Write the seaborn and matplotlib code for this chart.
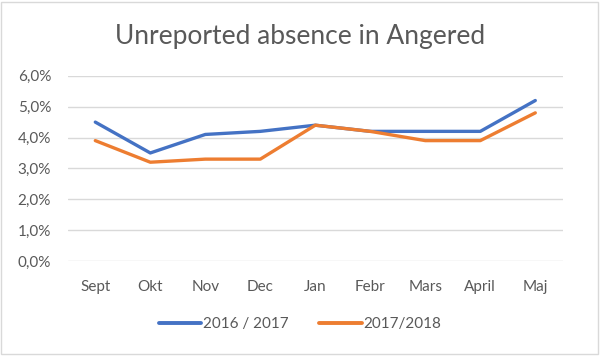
import pandas as pd
import matplotlib
matplotlib.use('Agg')
import matplotlib.pyplot as plt
import seaborn as sns
from matplotlib.ticker import FuncFormatter

# month labels and the two school years
months = ['Sept', 'Okt', 'Nov', 'Dec', 'Jan', 'Febr', 'Mars', 'April', 'Maj']
year_1617 = [4.5, 3.5, 4.1, 4.2, 4.4, 4.2, 4.2, 4.2, 5.2]
year_1718 = [3.9, 3.2, 3.3, 3.3, 4.4, 4.2, 3.9, 3.9, 4.8]
series_names = ['2016 / 2017', '2017/2018']

df = pd.DataFrame({
    'month': months * 2,
    'absence': year_1617 + year_1718,
    'year': [series_names[0]] * len(months) + [series_names[1]] * len(months),
})
df['x'] = df['month'].map({m: i for i, m in enumerate(months)})

sns.set_style('white')
plt.rcParams['font.family'] = ['Lato', 'DejaVu Sans']

fig = plt.figure(figsize=(6, 3.56), dpi=100)
ax = fig.add_axes([0.113, 0.267, 0.825, 0.52])

sns.lineplot(data=df, x='x', y='absence', hue='year', palette=['#4472C4', '#ED7D31'],
             linewidth=2.4, ax=ax, legend=False, sort=False)

ax.set_xlim(-0.5, len(months) - 0.5)
ax.set_ylim(0, 6)
ax.set_yticks([0, 1, 2, 3, 4, 5, 6])
ax.yaxis.set_major_formatter(FuncFormatter(lambda v, p: f'{v:.1f}%'.replace('.', ',')))
ax.set_xticks(range(len(months)))
ax.set_xticklabels(months)
ax.grid(axis='y', color='#D9D9D9', linewidth=1)
ax.set_axisbelow(True)
for s in ax.spines.values():
    s.set_visible(False)
ax.tick_params(axis='both', length=0, labelsize=11, colors='#595959')
ax.tick_params(axis='y', pad=12)
ax.tick_params(axis='x', pad=14)
ax.set_xlabel('')
ax.set_ylabel('')

fig.text(0.5, 0.897, 'Unreported absence in Angered', ha='center', va='center',
         fontsize=19, color='#595959')

# legend
handles = [plt.Line2D([], [], color=c, linewidth=2.8) for c in ['#4472C4', '#ED7D31']]
fig.legend(handles, series_names, loc='center', bbox_to_anchor=(0.5, 0.09), ncol=2,
           frameon=False, fontsize=11, labelcolor='#595959', handlelength=2.8,
           handletextpad=0.1, columnspacing=2.0)

# outer chart border
fig.patches.append(plt.Rectangle((0.002, 0.005), 0.994, 0.99, transform=fig.transFigure,
                                 fill=False, edgecolor='#D9D9D9', linewidth=1))

fig.savefig('out.png', dpi=100, facecolor='white')
